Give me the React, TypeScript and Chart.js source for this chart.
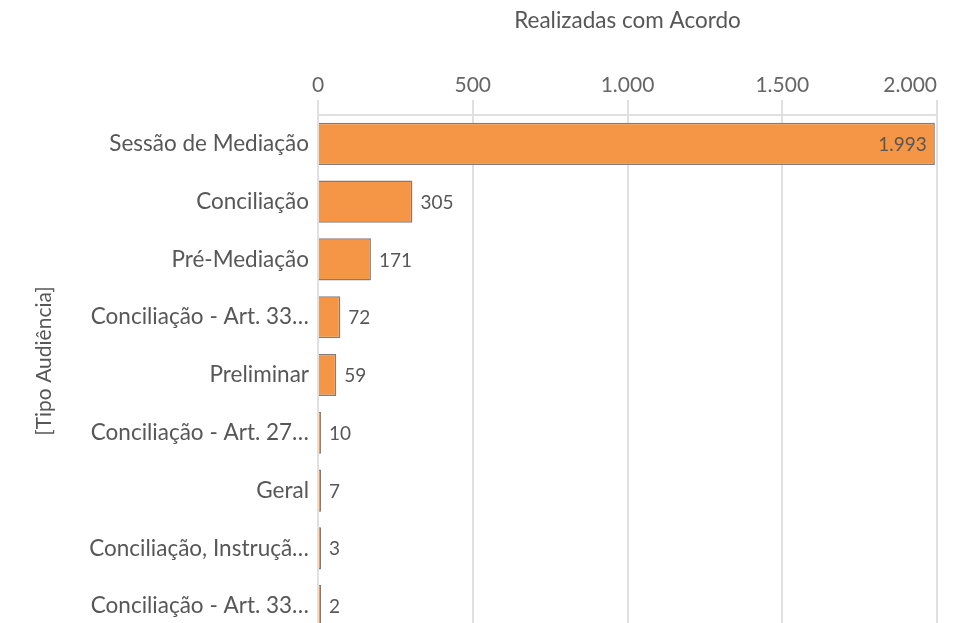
import React, { useEffect, useRef } from "react";
import { Chart, registerables } from "chart.js";

Chart.register(...registerables);

const categories: string[] = [
  "Sessão de Mediação",
  "Conciliação",
  "Pré-Mediação",
  "Conciliação - Art. 33…",
  "Preliminar",
  "Conciliação - Art. 27…",
  "Geral",
  "Conciliação, Instruçã…",
  "Conciliação - Art. 33…",
];
const values: number[] = [1993, 305, 171, 72, 59, 10, 7, 3, 2];
const xTicks: number[] = [0, 500, 1000, 1500, 2000];
const xTitle = "Realizadas com Acordo";
const yTitle = "[Tipo Audiência]";

const FONT = "Lato, 'Source Sans Pro', sans-serif";
const TEXT = "#575757";
const fmt = (v: number) => v.toLocaleString("pt-BR");

const labelsPlugin = {
  id: "customLabels",
  afterDatasetsDraw(chart: any) {
    const ctx = chart.ctx;
    const area = chart.chartArea;
    const xs = chart.scales.x;
    ctx.save();
    // x tick labels
    ctx.font = `21px ${FONT}`;
    ctx.fillStyle = "#666";
    ctx.textBaseline = "middle";
    xTicks.forEach((t, i) => {
      const px = xs.getPixelForValue(t);
      ctx.textAlign = i === xTicks.length - 1 ? "right" : "center";
      ctx.fillText(fmt(t), px, xs.bottom - 30);
    });
    // data labels
    const meta = chart.getDatasetMeta(0);
    ctx.font = `19px ${FONT}`;
    ctx.fillStyle = TEXT;
    meta.data.forEach((bar: any, i: number) => {
      const txt = fmt(values[i]);
      const w = ctx.measureText(txt).width;
      if (bar.x + 8 + w > area.right) {
        ctx.textAlign = "right";
        ctx.fillText(txt, bar.x - 8, bar.y + 1);
      } else {
        ctx.textAlign = "left";
        ctx.fillText(txt, bar.x + 8, bar.y + 1);
      }
    });
    // y title
    ctx.translate(44, area.top + 246);
    ctx.rotate(-Math.PI / 2);
    ctx.textAlign = "center";
    ctx.font = `21px ${FONT}`;
    ctx.fillStyle = TEXT;
    ctx.fillText(yTitle, 0, 0);
    ctx.restore();
  },
};

export default function App() {
  const ref = useRef<HTMLCanvasElement>(null);
  useEffect(() => {
    if (!ref.current) return;
    const chart = new Chart(ref.current, {
      type: "bar",
      data: {
        labels: categories,
        datasets: [
          {
            data: values,
            backgroundColor: "#F59646",
            borderColor: "#7d7d7d",
            borderWidth: 1.5,
            barPercentage: 0.73,
            categoryPercentage: 1,
            minBarLength: 3,
          },
        ],
      },
      options: {
        indexAxis: "y",
        responsive: false,
        animation: false,
        layout: { padding: { top: 0, right: 22, bottom: 0, left: 0 } },
        plugins: {
          legend: { display: false },
          tooltip: { enabled: false },
        },
        scales: {
          x: {
            position: "top",
            min: 0,
            max: 2000,
            ticks: { display: false, stepSize: 500 },
            grid: {
              color: "#e0e0e0",
              lineWidth: 2,
              drawTicks: true,
              tickLength: 15,
            },
            border: { display: true, color: "#e0e0e0", width: 2 },
            title: {
              display: true,
              text: xTitle,
              color: TEXT,
              font: { family: FONT, size: 22.5 },
              padding: { top: 7, bottom: 0 },
            },
            afterFit: (s: any) => {
              s.height = 115;
              s.paddingLeft = 0;
              s.paddingRight = 0;
            },
          },
          y: {
            ticks: {
              color: TEXT,
              font: { family: FONT, size: 22.5 },
              padding: 9,
              autoSkip: false,
            },
            grid: { display: false, drawTicks: false },
            border: { display: false },
            afterFit: (s: any) => {
              s.width = 318;
              s.paddingTop = 0;
              s.paddingBottom = 0;
            },
          },
        },
      },
      plugins: [labelsPlugin],
    });
    return () => chart.destroy();
  }, []);
  return (
    <div
      style={{
        position: "fixed",
        left: 0,
        top: 0,
        width: 959,
        height: 623,
        overflow: "hidden",
        background: "#fff",
      }}
    >
      <canvas ref={ref} width={959} height={635} />
    </div>
  );
}
